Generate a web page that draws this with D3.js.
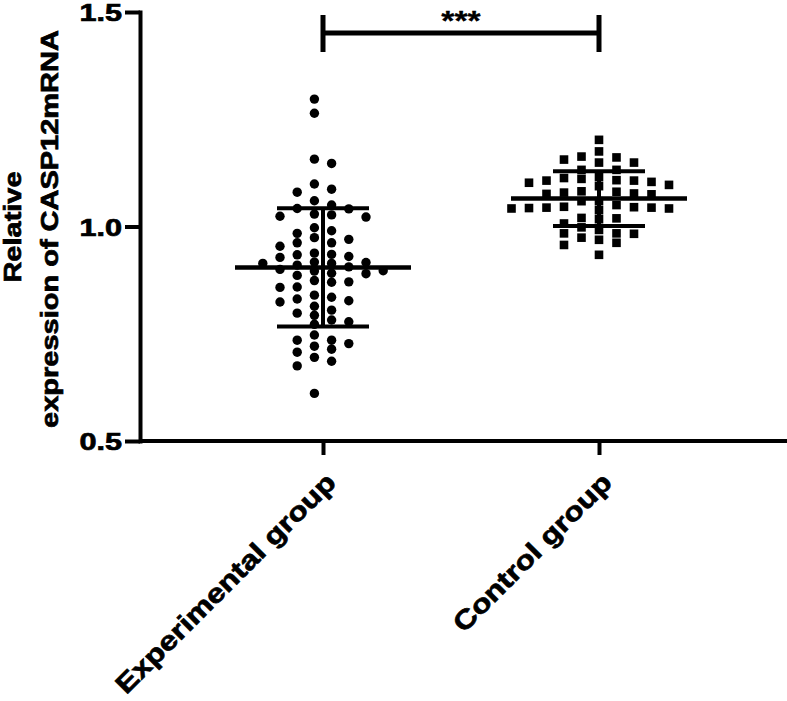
<!DOCTYPE html>
<html>
<head>
<meta charset="utf-8">
<script src="https://cdn.jsdelivr.net/npm/d3@7"></script>
<style>
body{margin:0;background:#fff}
svg text{font-family:"Liberation Sans",Arial,sans-serif;font-weight:bold;fill:#000;stroke:#000;stroke-width:0.7px}
</style>
</head>
<body>
<svg width="787" height="701"></svg>
<script>
var groups = ["Experimental group", "Control group"];

// relative expression
var experimental = [
  0.917, 0.897,
  1.042, 0.984, 0.962, 0.935, 0.900, 0.871, 0.840,
  1.050, 1.022, 0.970, 0.916, 0.890, 0.858, 0.814, 0.782, 0.727, 0.695,
  1.297, 1.264, 1.157, 1.087, 1.060, 1.029, 0.997, 0.954, 0.934, 0.910, 0.886, 0.831, 0.805, 0.778, 0.735, 0.707, 0.675, 0.611,
  1.147, 1.080, 1.027, 0.962, 0.914, 0.870, 0.824, 0.793, 0.735, 0.714, 0.686,
  1.099, 1.024, 0.990, 0.930, 0.906, 0.874, 0.827, 0.798, 0.772, 0.747, 0.721,
  1.041, 0.974, 0.938, 0.914, 0.891, 0.859, 0.835,
  0.928, 0.896
];
var control = [
  1.115, 1.059,
  1.107, 1.042,
  1.107, 1.082, 1.050,
  1.163, 1.094, 1.075, 1.042, 1.020, 0.998, 0.974,
  1.149, 1.113, 1.077, 1.044, 1.019, 0.992, 0.969,
  1.202, 1.161, 1.132, 1.104, 1.081, 1.044, 1.017, 0.984, 0.957, 0.934,
  1.156, 1.132, 1.108, 1.079, 1.045, 1.007, 0.984, 0.962,
  1.175, 1.149, 1.097, 1.046, 0.983,
  1.102, 1.076, 1.038,
  1.111, 1.059, 1.043
];
var yTicks = [0.5, 1.0, 1.5];
var yTitle = ["Relative", "expression of CASP12mRNA"];
var sigMark = "***";

var svg = d3.select("svg");

// the type in the figure is wider than Arial, so stretch it a bit
function widen(stretch) {
  return function (sel) {
    sel.each(function () {
      var w = this.getComputedTextLength();
      d3.select(this).attr("textLength", w * stretch).attr("lengthAdjust", "spacingAndGlyphs");
    });
  };
}

var y = d3.scaleLinear().domain([0.5, 1.5]).range([441, 12]);
var x = d3.scalePoint().domain(groups).range([323, 599]);

// y axis
var yAxis = svg.append("g")
  .attr("transform", "translate(140,0)")
  .call(d3.axisLeft(y).tickValues(yTicks).tickFormat(d3.format(".1f")).tickSize(15).tickSizeOuter(0));
yAxis.select(".domain").attr("stroke-width", 4).attr("stroke-linecap", "square");
yAxis.selectAll(".tick line").attr("stroke-width", 4);
yAxis.selectAll(".tick text")
  .attr("x", -18).attr("dy", "0.36em")
  .style("font-size", "24.5px")
  .call(widen(1.25));

// x axis
svg.append("line")
  .attr("x1", 140).attr("x2", 787)
  .attr("y1", y(0.5)).attr("y2", y(0.5))
  .attr("stroke", "#000").attr("stroke-width", 4);
var xAxis = svg.append("g")
  .attr("transform", "translate(0," + y(0.5) + ")")
  .call(d3.axisBottom(x).tickSize(14).tickSizeOuter(0));
xAxis.select(".domain").remove();
xAxis.selectAll(".tick line").attr("stroke-width", 4);
xAxis.selectAll(".tick text")
  .attr("text-anchor", "end")
  .attr("y", 0).attr("dy", 0)
  .attr("transform", "translate(14,43) rotate(-45)")
  .style("font-size", "26.5px")
  .call(widen(1.2));

// y title
svg.append("g")
  .attr("transform", "translate(0,227) rotate(-90)")
  .selectAll("text")
  .data(yTitle)
  .enter()
  .append("text")
  .attr("text-anchor", "middle")
  .attr("x", (d, i) => -i * 2)
  .attr("y", (d, i) => 21 + i * 37)
  .style("font-size", "23px")
  .text(d => d)
  .call(widen(1.26));

// scatter, spread sideways in fixed columns like a column scatter plot
function swarm(values, cx, step, half, gap) {
  var cols = {};
  var slots = [];
  for (var k = 0; k < 12; k++) {
    if (half) { slots.push(-(k + 0.5), k + 0.5); }
    else if (k == 0) { slots.push(0); }
    else { slots.push(-k, k); }
  }
  var order = values.map((v, i) => i).sort((a, b) => values[b] - values[a]);
  var out = [];
  order.forEach(function (i) {
    var py = y(values[i]);
    var s = slots.find(s => (cols[s] || []).every(q => Math.abs(q - py) >= gap));
    cols[s] = cols[s] || [];
    cols[s].push(py);
    out.push({ v: values[i], x: cx + s * step, y: py });
  });
  return out;
}

var expPts = swarm(experimental, x(groups[0]), 17.2, true, 9);
var ctrlPts = swarm(control, x(groups[1]), 17.5, false, 8.5);

svg.append("g").selectAll("circle")
  .data(expPts)
  .enter()
  .append("circle")
  .attr("cx", d => d.x)
  .attr("cy", d => d.y)
  .attr("r", 4.7)
  .attr("fill", "#000");

svg.append("g").selectAll("rect")
  .data(ctrlPts)
  .enter()
  .append("rect")
  .attr("x", d => d.x - 4.3)
  .attr("y", d => d.y - 4.3)
  .attr("width", 8.6)
  .attr("height", 8.6)
  .attr("fill", "#000");

// mean and SD
var stats = [experimental, control].map((vals, i) => ({
  g: groups[i],
  mean: d3.mean(vals),
  sd: d3.deviation(vals)
}));
var bars = svg.append("g").attr("stroke", "#000");
stats.forEach(function (s) {
  var cx = x(s.g);
  bars.append("line")
    .attr("x1", cx - 88).attr("x2", cx + 88)
    .attr("y1", y(s.mean)).attr("y2", y(s.mean))
    .attr("stroke-width", 4.5);
  bars.append("line")
    .attr("x1", cx).attr("x2", cx)
    .attr("y1", y(s.mean + s.sd)).attr("y2", y(s.mean - s.sd))
    .attr("stroke-width", 4);
  [s.mean + s.sd, s.mean - s.sd].forEach(function (v) {
    bars.append("line")
      .attr("x1", cx - 46).attr("x2", cx + 46)
      .attr("y1", y(v)).attr("y2", y(v))
      .attr("stroke-width", 4);
  });
});

// significance bracket
var sig = svg.append("g").attr("stroke", "#000").attr("stroke-width", 5);
sig.append("line")
  .attr("x1", x(groups[0])).attr("x2", x(groups[1]))
  .attr("y1", 33).attr("y2", 33);
groups.forEach(function (g) {
  sig.append("line")
    .attr("x1", x(g)).attr("x2", x(g))
    .attr("y1", 15).attr("y2", 52);
});
svg.append("text")
  .attr("x", (x(groups[0]) + x(groups[1])) / 2)
  .attr("y", 30)
  .attr("text-anchor", "middle")
  .style("font-size", "28px")
  .style("stroke-width", "0.3px")
  .text(sigMark)
  .call(widen(1.2));
</script>
</body>
</html>
